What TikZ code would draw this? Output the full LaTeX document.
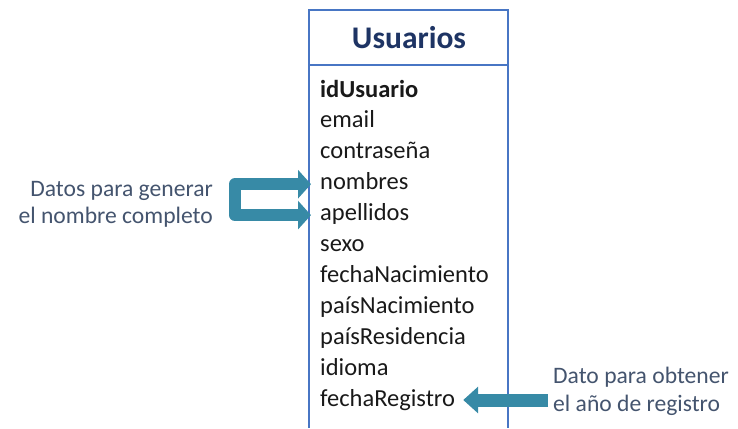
\documentclass[tikz,border=0pt]{standalone}
\usepackage{fontspec}
\setmainfont{Carlito}
\usetikzlibrary{arrows.meta}
\definecolor{boxblue}{RGB}{72,118,196}
\definecolor{titlenavy}{RGB}{30,52,100}
\definecolor{labelgray}{RGB}{68,84,110}
\definecolor{arrowteal}{RGB}{55,138,166}
\definecolor{fieldtext}{RGB}{25,25,25}
\begin{document}
\begin{tikzpicture}[x=1pt,y=-1pt,
  boxline/.style={draw=boxblue, line width=2pt},
  titletext/.style={font=\bfseries\fontsize{31.5}{36}\selectfont, text=titlenavy, inner sep=0pt},
  field/.style={anchor=base west, inner sep=0pt, text height=16pt, text depth=5pt, text=fieldtext, font=\fontsize{24.5}{28}\selectfont},
  note/.style={inner sep=0pt, text=labelgray, font=\fontsize{23.6}{27.5}\selectfont},
  fatarrow/.style={draw=arrowteal, line join=round}
]
\useasboundingbox (0,0) rectangle (738,428);
\draw[boxline] (309,428) -- (309,10) -- (508,10) -- (508,428);
\draw[boxline] (309,65) -- (508,65);
\node[titletext] (title) at (409,38) {Usuarios};
\node[field, font=\bfseries\fontsize{24.5}{28}\selectfont] (idUsuario) at (320,97) {idUsuario};
\node[field] (email) at (320,127.9) {email};
\node[field] (contrasena) at (320,158.8) {contraseña};
\node[field] (nombres) at (320,189.7) {nombres};
\node[field] (apellidos) at (320,220.6) {apellidos};
\node[field] (sexo) at (320,251.5) {sexo};
\node[field] (fechaNacimiento) at (320,282.4) {fechaNacimiento};
\node[field] (paisNacimiento) at (320,313.3) {paísNacimiento};
\node[field] (paisResidencia) at (320,344.2) {paísResidencia};
\node[field] (idioma) at (320,375.1) {idioma};
\node[field] (fechaRegistro) at (320,406) {fechaRegistro};
\node[note, anchor=base east, align=right] (lblA) at (213,223.5) {Datos para generar\\el nombre completo};
\node[note, anchor=base west, align=left] (lblB) at (553,411) {Dato para obtener\\el año de registro};
\coordinate (bstart) at (548,400);
\draw[fatarrow, line width=12pt, {Triangle[length=13pt,width=28pt]}-{Triangle[length=13pt,width=28pt]}]
  ([xshift=-9pt]nombres.west) -- ++(-76,0) |- ([xshift=-9pt]apellidos.west);
\draw[fatarrow, line width=13pt, -{Triangle[length=15pt,width=26pt]}]
  (bstart) -- ([xshift=8pt]fechaRegistro.east |- bstart);
\end{tikzpicture}
\end{document}
